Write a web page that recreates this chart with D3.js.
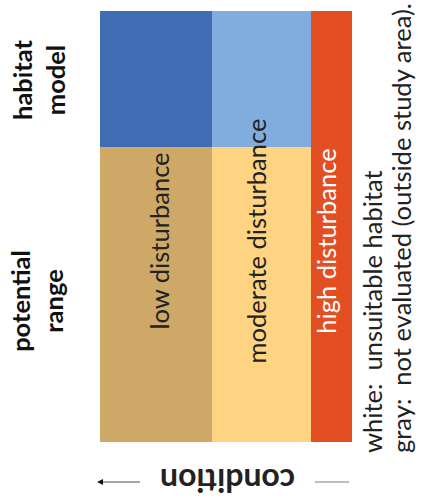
<!DOCTYPE html>
<html><head><meta charset="utf-8">
<script src="https://cdn.jsdelivr.net/npm/d3@7"></script>
<style>
body{margin:0;background:#fff}
svg{display:block}
text{font-family:Lato, "Open Sans", sans-serif; white-space:pre}
</style>
</head><body>
<script>
// ---- data ----
const rowNames = ["habitat model", "potential range"];
const rowLabelLines = [["habitat", "model"], ["potential", "range"]];
const colNames = ["low disturbance", "moderate disturbance", "high disturbance"];
const colShares = [112, 99, 41];
const rowShares = [136, 295];
const cellColors = [
  ["#3F6CB3", "#80ADDE", "#E34E22"],
  ["#CDA866", "#FED382", "#E34E22"]
];
const labelColors = ["#222222", "#222222", "#ffffff"];
const legendLines = ["white:  unsuitable habitat", "gray:  not evaluated (outside study area)."];
const axisTitle = "condition";

// ---- layout ----
const W = 421, H = 504;
const svg = d3.select("body").append("svg").attr("width", W).attr("height", H);

const colEdges = Array.from(d3.cumsum([0, ...colShares]));
const rowEdges = Array.from(d3.cumsum([0, ...rowShares]));
const x = d3.scaleLinear().domain([0, d3.sum(colShares)]).range([100, 352]);
const y = d3.scaleLinear().domain([0, d3.sum(rowShares)]).range([11, 442]);

const cells = [];
rowNames.forEach((r, i) => colNames.forEach((c, j) => cells.push({i, j})));
svg.append("g").selectAll("rect").data(cells).join("rect")
  .attr("x", d => x(colEdges[d.j]))
  .attr("y", d => y(rowEdges[d.i]))
  .attr("width", d => x(colEdges[d.j + 1]) - x(colEdges[d.j]))
  .attr("height", d => y(rowEdges[d.i + 1]) - y(rowEdges[d.i]))
  .attr("fill", d => cellColors[d.i][d.j])
  .attr("shape-rendering", "crispEdges");

function fit(sel, target) {
  const base = parseFloat(sel.attr("font-size"));
  const len = sel.node().getComputedTextLength();
  return base * target / len;
}

// column labels (rotated -90), centred vertically around y=240
const labelDx = [13, 4, 4];
const colLab = svg.append("g").selectAll("text").data(colNames).join("text")
  .text(d => d)
  .attr("font-size", 24)
  .attr("text-anchor", "middle")
  .attr("fill", (d, j) => labelColors[j])
  .attr("transform", (d, j) => {
    const cx = (x(colEdges[j]) + x(colEdges[j + 1])) / 2 + labelDx[j];
    return `translate(${cx},241) rotate(-90)`;
  });
const colSize = fit(colLab.filter((d, j) => j === 1), 245);
colLab.attr("font-size", colSize);

// row labels (bold, rotated -90)
const rowCenters = [80, 301];
const rowBaselines = [[32, 65], [30, 63]];
const rowG = svg.append("g");
rowLabelLines.forEach((lines, i) => {
  lines.forEach((ln, k) => {
    rowG.append("text")
      .text(ln)
      .attr("class", "rowlab")
      .attr("font-size", 26)
      .attr("font-weight", "bold")
      .attr("text-anchor", "middle")
      .attr("fill", "#111")
      .attr("transform", `translate(${rowBaselines[i][k]},${rowCenters[i]}) rotate(-90)`);
  });
});
const rowSize = fit(rowG.select("text"), 80);
rowG.selectAll("text").attr("font-size", rowSize);

// legend text (rotated -90, starting near the bottom)
const legBaselines = [382, 411];
const legG = svg.append("g");
legendLines.forEach((t, k) => {
  legG.append("text")
    .text(t)
    .attr("font-size", 22)
    .attr("text-anchor", "start")
    .attr("fill", "#222")
    .attr("transform", `translate(${legBaselines[k]},453) rotate(-90)`);
});
const legSize = fit(legG.selectAll("text").filter((d, k) => k === 1), 450);
legG.selectAll("text").attr("font-size", legSize);

// axis title "condition" (upside down) with arrow
const titleCx = 227.5;
const title = svg.append("text")
  .text(axisTitle)
  .attr("font-size", 32)
  .attr("font-weight", "bold")
  .attr("text-anchor", "middle")
  .attr("fill", "#222")
  .attr("transform", `translate(${titleCx},469) rotate(180)`);
title.attr("font-size", fit(title, 135));

svg.append("defs").append("marker")
  .attr("id", "arr").attr("viewBox", "0 0 10 10")
  .attr("refX", 5).attr("refY", 5)
  .attr("markerWidth", 4).attr("markerHeight", 4)
  .attr("orient", "auto")
  .append("path").attr("d", "M0,0 L10,5 L0,10 z").attr("fill", "#111");

svg.append("line")
  .attr("x1", 140).attr("y1", 482).attr("x2", 100).attr("y2", 482)
  .attr("stroke", "#888").attr("stroke-width", 1.5)
  .attr("marker-end", "url(#arr)");
svg.append("line")
  .attr("x1", 315).attr("y1", 482).attr("x2", 349).attr("y2", 482)
  .attr("stroke", "#aaa").attr("stroke-width", 1.5);
</script>
</body></html>
